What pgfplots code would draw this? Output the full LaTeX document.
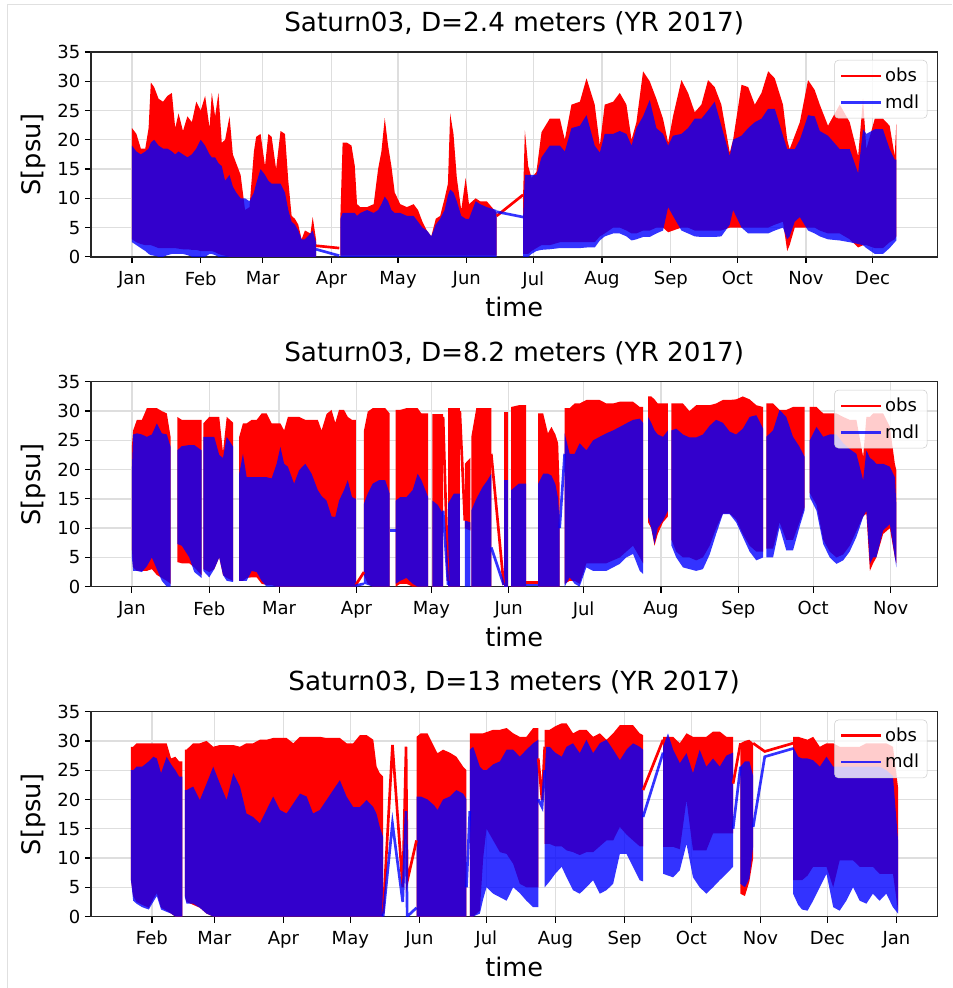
\documentclass[border=0pt]{standalone}
\usepackage{fontspec}
\setmainfont{DejaVu Sans}
\usepackage{pgfplots}
\usepackage{pgfplotstable}
\pgfplotsset{compat=1.18}
\usepgfplotslibrary{fillbetween}

\definecolor{obsc}{rgb}{1,0,0}
\definecolor{mdlc}{rgb}{0,0,1}
\definecolor{gridc}{rgb}{0.87,0.87,0.87}
\newcommand\tickfont{\fontsize{13.5pt}{16pt}\selectfont}
\newcommand\labfont{\fontsize{19.2pt}{23pt}\selectfont}
\newcommand\titfont{\fontsize{19.7pt}{23pt}\selectfont}
\tikzset{obsline/.style={obsc, line width=2pt},
         mdlline/.style={mdlc, draw opacity=0.8, line width=2pt}}

% envelopes: day of year, obs high/low, mdl high/low
% panel 1 (D=2.4 m)
\pgfplotstableread{
d oh ol mh ml
0 22 3 19 2.5
2 21 2.5 18 2
4 18.5 2.2 17.5 1.5
6 18.5 2 18 1
7.5 22 2 18.5 0.5
8.5 29.8 2 19.5 0.3
10 29 1.8 20 0.2
12 27 1.5 19 0
14 26.5 1.5 18.5 0
16 27.5 1.5 18.5 0.3
18 28 1.5 18 0.5
19.5 22 1.5 17.5 0.5
21 24.5 1.4 18 0.5
23 21.5 1.3 17.5 0.5
25 24 1.3 17 0.3
27 23 1.2 17.5 0
29 26.5 1.2 18.5 0
31 25 1 20 0
33 27.5 1 19 0
35 22 1 17.5 0.5
36 28 1 17 0.5
37.5 24 0.8 17 0.3
39 28 0.5 16 0
40.5 19.5 0.3 15.5 0
42 20 0.2 13 0
44 24 0 14 0
45.5 17.5 0 12 0
47 16 0 11 0
49 14 0 10 0
51 8 0 10 0
53 8.5 0 9.5 0
55 18 0 11 0
56 20.5 0 12.5 0
58 21 0 15 0
60 15.5 0 14 0
61.5 21 0 13 0
63 20.5 0 12.5 0
65 15 0 12.5 0
67 21.5 0 12.5 0
69 21 0 11 0
70.5 13 0 8 0
72 7 0 6 0
73.5 6.5 0 5.5 0
75 5.5 0 4.5 0
76.5 3 0 3 0
78 4.5 0 3 0
80.5 4 0 4 0
81.5 6.8 0 4.5 0
83 3 0 2.5 0
}\tAa
\pgfplotstableread{
d oh ol mh ml
94 7 0.2 6.5 0
95 19.5 0.2 7.5 0
97 19.5 0.2 7.5 0
99 19 0.2 7.5 0
100.5 15.5 0.2 7.5 0
101.5 9 0.2 7 0
103 8.5 0.2 7.5 0
106 8.5 0.2 8 0
109 9 0.2 7.5 0
111 15 0.2 8 0
112.5 18 0.2 9 0
114 23.7 0.2 10.3 0
115.5 19 0.2 9.5 0
117 15.5 0.2 8 0
118.5 11 0.2 7.5 0
121 9 0.2 7.5 0
124 8.5 0.2 7 0
127 9 0.2 7 0
129 8 0.2 6 0
131 6 0.2 5 0
133 4.5 0.2 4.5 0
135 3.5 0.2 3.5 0
137 6.5 0.2 5.5 0
139 7 0.2 6.5 0
141 10 0.2 8 0
142.5 12.5 0.2 10.5 0
143.5 24.5 0.2 11.5 0
145 21 0.2 11 0
146.5 13.5 0.2 9.5 0
148.5 8 0.2 7 0
150.5 13.5 0.2 6.5 0
152 9 0.2 6.5 0
155 10 0.2 9.5 0
157 9.5 0.2 9 0
160 9.5 0.2 8.5 0
164.5 7.5 0.2 8 0
}\tAb
\pgfplotstableread{
d oh ol mh ml
176.4 10.6 0.5 6.8 0
177.2 21.6 0.5 14 0
178.7 15.5 0.5 14 0
180.2 13.5 1 14 0.5
182.4 14.5 1.5 14 1
184.7 21.3 2 17 1.2
188.4 23.6 2 19 1.3
193 23.6 2.5 19 1.5
195.2 20 2.5 18 1.5
198.2 26 2.5 22 1.5
202 26.5 2.5 22.4 1.5
205 30.5 2.5 24.2 1.6
208.7 26 2.5 19 1.6
211 19 3.5 17.8 2.8
213.2 26 4 21 3.5
217 26.5 5 21 4
220 28 5 21.5 4
223 26 4.5 21 3.5
225.3 20 4 19 2.8
227.5 23 4 22 3
230.5 31.7 4.5 24 3.4
233.5 30 4.5 26.8 3.4
236.5 27 5 22 4
239.5 23.6 5 21 4.5
241.8 19.5 4.2 19 8.5
244 24 4.5 20.7 7
247.8 30.2 5 21 4.5
250.8 28 5 22 4
253.8 24.7 4.5 23.6 3.5
256.8 26 4.5 23.6 3.4
259.8 30.2 4.5 25 3.4
262.8 29 4.5 26.5 3.4
265.8 26 4.5 22.4 3.5
269.6 17.8 5 17.2 5.5
271.1 20 5 20 8
274.9 29.4 5 20.7 5
277.9 29 5 22 4
280.9 26 5 23 4
283.9 28 5 23.6 4
286.9 31.7 5 25.3 4
289.9 30.5 5.5 25.3 4.5
293.6 26 6 20.7 5
295.5 20 1 18.4 3
296.6 18.4 2 18.4 3.5
298.9 20.7 5 18.4 6
301.2 23 5 20 6.8
304.9 30.2 5 24.2 4.5
307.9 28.5 5 24 4
310.2 26 4.5 21.5 3.5
313.9 22.4 4 20.7 3
319.2 26 4 18.4 2.8
323.7 23 3 18.4 2.5
327.5 17.2 1.6 14.3 2.2
329.7 27 2 21.8 2
331.2 18.4 2 21 1.5
335 23.6 1.5 21.8 0.5
338.7 23.6 1.5 21.8 0.5
341.7 22.4 2.5 18.4 1.5
344 17.2 3 16.6 2.5
344.7 22.7 3.5 16.6 2.8
}\tAc
% panel 2 (D=8.2 m)
\pgfplotstableread{
d oh ol mh ml
0 24 6.5 20 5
0.5 26.7 3.3 26 2.7
2 28.5 2.7 26.2 2.7
4 28.5 2.7 26 2.5
6 30.5 2.7 25.6 3.5
8 30.5 3 26 5
10 30.5 2 27.9 3
12 30 1.5 26.2 1
14 29.6 1 26 0
15.5 25.6 0.5 23.9 0
}\tBa
\pgfplotstableread{
d oh ol mh ml
18.2 29 4.2 23.3 7.3
20 28.5 4 24 7
23 28.5 4 24.2 5
25 28.5 3.3 24.2 2.5
27.9 28.5 2 23.3 1.5
}\tBb
\pgfplotstableread{
d oh ol mh ml
28.6 27.9 3 25.6 2.7
31 29 2.5 25.6 1.6
33 29 3 25.6 3
35 29 5 22.5 5
36.5 23 2 22 2
38 29 1.5 25.6 1
40.6 28 1 23.9 0.8
}\tBc
\pgfplotstableread{
d oh ol mh ml
43 25.6 1 19.3 1
44.5 27.9 1 22.7 1
46 27.9 1.5 18.7 1
48 28.5 1.6 18.7 2.7
50 28.5 1.6 18.7 2.5
52 29.6 0.5 18.7 1
54 29.6 0.3 18.7 0
56 27.9 0.3 18.5 0
58 27.9 0 21 0
59.5 27.9 0 23.9 0
61 26.7 0 21 0
62.5 29 0 20.5 0
65 29 0 17.6 0
67 29 0 19.9 0
69.5 28.5 0 21 0
72 28.5 0 19.3 0
74.5 28.5 0 16.5 0
76 26.7 0 15.5 0
78 29.5 0 14.7 0
80 30.2 0 12 0
81.5 28 0 11.9 0
83 30.2 0 14.7 0
85 30.2 0 16.5 0
86.5 29 0 18.2 0
88.2 28.5 0 15.3 0
89.7 28.5 0 15 0
}\tBd
\pgfplotstableread{
d oh ol mh ml
93 26.7 2 14.2 0.5
94.5 29.9 0.5 15.9 0.3
96.5 30.5 0 17.6 0
99 30.5 0 18.2 0
101.5 30.5 0 18.2 0
103.3 29.6 0 15.9 0
}\tBe
\pgfplotstableread{
d oh ol mh ml
105.7 30.2 0 14.7 0.5
107.5 30.2 0.5 15.3 1
110 30.5 0.5 15.3 1.5
112.5 30.5 0 16.5 0.5
114.5 30.5 0 19.3 0
116 29.6 0 18.2 0
118.7 29.6 0 15.3 0
}\tBf
\pgfplotstableread{
d oh ol mh ml
120.4 29.5 0 14.7 0
122.5 29.5 0 14 0
124.7 29.5 0 12.4 0
}\tBg
\pgfplotstableread{
d oh ol mh ml
126.7 30.5 0 14.2 0
129 30.5 0 15.9 0
131.4 30.5 0 15.9 0
}\tBh
\pgfplotstableread{
d oh ol mh ml
133.4 21 10 11.3 0
135.6 22 9.6 11 0
}\tBi
\pgfplotstableread{
d oh ol mh ml
136 25.6 0 13 0
138 30.5 0 15 0
140.5 30.5 0 17 0
142.5 30.5 0 18.2 0
144 30.5 0 19.3 0
}\tBj
\pgfplotstableread{
d oh ol mh ml
149 29.9 0 18.2 0
150.7 29.9 0 18.2 0
}\tBk
\pgfplotstableread{
d oh ol mh ml
152 30.7 0 16.5 0
155 31 0 17.6 0
158 31 0 17.6 0
}\tBl
\pgfplotstableread{
d oh ol mh ml
162.8 29.6 0 17.6 0
164.8 29.6 0 19.3 0
166.7 26.2 0 19.3 0
168.1 27.3 0 19 0
169.7 26 0 17.5 0
170.8 24.5 0 15 0
171.4 17 0 10.2 0
}\tBm
\pgfplotstableread{
d oh ol mh ml
173.4 30.5 0.5 26.2 0
175.4 30.5 1 22.7 1.6
177.4 31.3 1 22.7 0.5
179.4 31.3 0.5 24.5 0
182.1 31.9 4 23.3 3.3
184.8 31.9 4 25 2.7
187.4 31.9 4 25.6 2.7
190.1 31.3 4 26.2 2.7
192.8 31.3 4.5 26.7 3.3
195.5 31.6 5 27.3 3.9
198.1 31.6 6 27.9 5
200.8 31.6 7 28.5 5.6
203.5 30.7 5 28.7 2.7
204.8 30.7 4 28 2.2
}\tBn
\pgfplotstableread{
d oh ol mh ml
206.8 32.5 11 29 12
208.1 32.5 10 28 10
209.4 32 7 26.7 7.3
210.7 31.3 9 26 10
212.8 31.3 11 25.6 11.3
214.8 31.3 12 26.7 13
}\tBo
\pgfplotstableread{
d oh ol mh ml
216.2 31.3 8 26.7 7
218.1 31.3 6 27 5
220.8 31.3 5 26 3.3
223.4 30 5 25.5 3
226.1 31 4.5 25.5 2.7
228.8 31 5 26 3
231.5 31 7 27.5 5.5
234.1 31.3 10 28.5 9
236.8 31.9 12.5 28 12.4
239.5 31.9 12.5 26.5 12.4
242.1 32 11.5 26 11
244.8 32.5 9 27 8.5
247.5 32 7 29 6
250.2 31 6 29.3 4.5
252.9 30.7 6 27 5
}\tBp
\pgfplotstableread{
d oh ol mh ml
254.2 31.3 6.5 25.6 5
256.9 31.3 6.5 26.7 5
259.5 30.2 11 30.2 10.2
262.2 30.2 8 29 6.2
264.9 30.7 8 25.6 6.2
267.5 30.7 11 23.9 10.2
269.5 30.7 13.5 22.2 13
}\tBq
\pgfplotstableread{
d oh ol mh ml
271.6 30.7 16 25 15.3
274.3 30.7 14 27.3 13
277 29.6 8 25.6 7.3
279.6 29.6 6 26 5
282.3 29.6 5 26 3.9
285 29 5.5 24.5 4.5
287.6 28.5 7 23.5 6
290.3 28.5 9.5 22.7 8.5
293 22.2 12 18.2 11.9
294.3 29 12.5 23.3 13
295.7 29 2.7 22 3.9
297 29.6 4 21.6 5
298.3 29.6 5 21 5
301 29.6 9 21 9.6
303.7 27.3 10 20.5 10.7
305.7 21 5 18.7 5
306.3 19.9 4 14.2 3.3
}\tBr
% panel 3 (D=13 m)
\pgfplotstableread{
d oh ol mh ml
21.6 29 6.2 25 6.2
22.6 29 3.5 25 2.7
24.1 29.6 2.5 25.6 2.2
26.6 29.6 2 25.6 1.6
29.6 29.6 1.5 26.5 1.2
31.6 29.6 3 27.3 2.5
33.2 29.6 4 27 3.5
35.1 29.6 1.5 24.5 1.2
37.6 29.6 1 27.3 0.8
39.6 27 0.5 26 0.5
41.5 27.3 0 25 0
43.2 26.5 0 23.9 0
44.7 26.5 0 23.9 0
}\tCa
\pgfplotstableread{
d oh ol mh ml
45.8 28.5 3.5 21.6 3.3
46.5 28.5 2.5 21.6 2.2
49.5 29.6 2 22.2 2.2
52.5 29.6 1.5 19.9 1.5
55.5 30 0.5 22.7 0.5
58.5 29 0 25.6 0
61.5 29.3 0 22.7 0
64.5 29.3 0 19.9 0
67.5 29.3 0 24.5 0
70.5 29 0 22.2 0
73.4 29.6 0 17.6 0
76.4 29.6 0 17 0
79.4 30.2 0 15.9 0
82.4 30.2 0 18.2 0
85.4 30.5 0 20.5 0
88.4 30.5 0 18.2 0
91.4 30.5 0 17.6 0
94.4 29.6 0 19.3 0
97.4 30.7 0 21 0
100.4 30.7 0 20.5 0
103.3 30.7 0 17.6 0
106.3 30.7 0 18.2 0
109.3 30.5 0 19.9 0
112.3 30.5 0 21.6 0
115.3 30.5 0 23.3 0
118.3 29.6 0 20.5 0
121.3 29.6 0 18.7 0
124.3 31 0 18.7 0
127.3 31 0 19.9 0
130.3 30.2 0 18.7 0
131.8 25.6 0 17.5 0
133.2 24.5 0 15.3 0
134.7 23.9 0 13.6 0
}\tCb
\pgfplotstableread{
d oh ol mh ml
149.7 30.7 0 20.5 0
151.6 31.3 0 20.5 0
154.6 31.3 0 20 0
157.6 29 0 19 0
159.1 27.9 0 18.2 0
161.6 28.5 0 20 0
164.6 28 0 20.5 0
167.6 27.3 0 21.6 0
170.6 25.6 0 21 0
172.1 25 0 20 0
}\tCc
\pgfplotstableread{
d oh ol mh ml
173.6 31.3 0 28.5 0
175.1 31.3 0 29 0
178.1 31.3 1 25.6 0.5
179.6 31.3 10 25 3
181.1 31.5 15 25 5
184.1 31.9 13 26 3.9
187.1 31.9 11 26.5 3.3
190.1 32.2 10.7 28.5 2.7
193.05 31.3 9 28.5 5
196 30.7 5.6 27.3 4
199 30.7 5 28.5 2.7
202 32.2 5 29.6 1.6
204.3 32.2 5 30.2 1.6
}\tCd
\pgfplotstableread{
d oh ol mh ml
207.2 31.9 12.4 29 5
209.4 31.9 12.4 29 6
211.9 32.5 12 28 7.3
214.8 33 12 27.3 8.5
217 33 11.3 29 6.7
219.9 31.3 11 29.6 4.5
222.9 31.9 10.5 27.9 3.9
225.9 31.9 11 30.2 5
228.9 30.7 11 27.9 6.2
231.9 31.3 12 29.6 3.9
234.9 30.2 13 30.2 4.5
237.9 31.3 13 28.5 5.6
240.9 32.7 15.3 26.7 10.7
243.9 32.7 14 28.5 10.7
246.8 32.7 13 29.6 8.5
249.8 31.3 12 29 6.2
251.3 31 12 28.5 6
}\tCe
\pgfplotstableread{
d oh ol mh ml
260.3 30.7 11.9 29 7.3
262.5 30.7 11.9 31.3 7
264.8 30.7 11.9 28.5 6.7
267.8 29.6 11.5 26.2 7.9
270.8 31.3 19.9 27.9 12.4
273.7 30.7 11.3 24.5 6.7
276.7 30.7 11.3 28.5 5
279.7 30.7 11.3 25.6 3.9
282.7 31.6 14.2 27 5
285.7 31.6 14.2 25.6 6.2
288.7 30.7 14.2 27.5 7.3
291.7 30.7 14.2 28 8.5
}\tCf
\pgfplotstableread{
d oh ol mh ml
295 29.6 3.9 25.6 5.6
297 30 3.5 26.5 5
299 30.2 6 26.5 6.5
300.7 29.6 10 24 12
}\tCg
\pgfplotstableread{
d oh ol mh ml
318.6 30.7 6.2 29 3.9
320.9 30.7 6.2 27.3 2
322.6 30.5 6.2 27 1.2
325.1 30.2 7 27 1
327.6 30.7 8.5 26.7 2.7
330.6 29 8.5 25.6 5
333.6 29.6 8.5 27.3 7.3
336.6 29.6 5 25.6 1.6
339.5 29 9.6 25.6 1
342.5 29 9.6 25.6 2.7
345.5 29 9.6 25.6 5
348.5 29 8.5 25.6 2.7
351.5 29.6 8.5 25.6 2.2
354.4 29.6 8.5 25.6 3.9
357.4 29.6 7.3 25.6 2.7
360.4 29.6 7.3 25 3.9
363.4 29 7.3 24 1.6
365.7 22 1 13 0.5
}\tCh

\newcommand{\obsseg}[2]{%
  \addplot[draw=none, forget plot, name path=#1oh] table[x=d, y=oh] {#2};
  \addplot[draw=none, forget plot, name path=#1ol] table[x=d, y=ol] {#2};
  \addplot[obsc, forget plot] fill between[of=#1oh and #1ol];
}
\newcommand{\mdlseg}[2]{%
  \addplot[draw=none, forget plot, name path=#1mh] table[x=d, y=mh] {#2};
  \addplot[draw=none, forget plot, name path=#1ml] table[x=d, y=ml] {#2};
  \addplot[mdlc, fill opacity=0.8, forget plot] fill between[of=#1mh and #1ml];
}

\pgfplotsset{
  panel/.style={
    scale only axis, width=635.25pt, height=153.75pt,
    anchor=north west,
    ymin=0, ymax=35, ytick={0,5,...,35},
    grid=major, major grid style={gridc, line width=1pt},
    tick align=outside, tick pos=left, major tick length=4.5pt,
    every tick/.style={black, line width=0.9pt},
    axis line style={black!85, line width=1pt},
    tick label style={font=\tickfont},
    xticklabel style={yshift=-3pt},
    /pgf/number format/assume math mode=true,
    title style={font=\titfont, at={(axis description cs:0.5,1.062)}, anchor=base, yshift=0pt},
    xlabel={time}, ylabel={S[psu]},
    label style={font=\labfont},
    xlabel style={at={(axis description cs:0.5,-0.293)}, anchor=base},
    ylabel style={at={(axis description cs:-0.0685,0.5)}, anchor=center},
    legend style={at={(axis description cs:0.988,0.961)}, anchor=north east,
      draw=black!20, rounded corners=3pt, fill=white, fill opacity=0.8,
      text opacity=1, draw opacity=1, font=\tickfont,
      inner xsep=4pt, inner ysep=4pt, row sep=4pt},
    legend cell align=left,
    legend image code/.code={\draw[##1] (0pt,0pt) -- (30pt,0pt);},
  }
}

\begin{document}
\begin{tikzpicture}
\path (0,0) rectangle (714pt,741pt);
\draw[black!12, line width=0.75pt] (6pt,0pt) -- (6pt,737.5pt) -- (714pt,737.5pt);

% ---- panel 1
\begin{axis}[panel, at={(68.25pt,702pt)},
  title={Saturn03, D=2.4 meters (YR 2017)},
  xmin=-18.5, xmax=363.3,
  xtick={0,31,59,90,120,151,181,212,243,273,304,334},
  xticklabels={Jan,Feb,Mar,Apr,May,Jun,Jul,Aug,Sep,Oct,Nov,Dec}]
\addlegendimage{obsline}\addlegendentry{obs}
\addlegendimage{mdlline}\addlegendentry{mdl}
\obsseg{Aa}{\tAa}
\obsseg{Ab}{\tAb}
\obsseg{Ac}{\tAc}
\addplot[obsline, forget plot] coordinates {(83,1.9) (93.5,1.5)};
\addplot[obsline, forget plot] coordinates {(164.5,7) (176.4,10.6)};
\mdlseg{Aa}{\tAa}
\mdlseg{Ab}{\tAb}
\mdlseg{Ac}{\tAc}
\addplot[mdlline, forget plot] coordinates {(83,1.3) (93.5,0.2)};
\addplot[mdlline, forget plot] coordinates {(164.5,7.7) (176.4,6.8)};
\end{axis}

% ---- panel 2
\begin{axis}[panel, at={(68.25pt,454.5pt)},
  title={Saturn03, D=8.2 meters (YR 2017)},
  xmin=-16.4, xmax=322.8,
  xtick={0,31,59,90,120,151,181,212,243,273,304},
  xticklabels={Jan,Feb,Mar,Apr,May,Jun,Jul,Aug,Sep,Oct,Nov}]
\addlegendimage{obsline}\addlegendentry{obs}
\addlegendimage{mdlline}\addlegendentry{mdl}
\obsseg{Ba}{\tBa}
\obsseg{Bb}{\tBb}
\obsseg{Bc}{\tBc}
\obsseg{Bd}{\tBd}
\obsseg{Be}{\tBe}
\obsseg{Bf}{\tBf}
\obsseg{Bg}{\tBg}
\obsseg{Bh}{\tBh}
\obsseg{Bi}{\tBi}
\obsseg{Bj}{\tBj}
\obsseg{Bk}{\tBk}
\obsseg{Bl}{\tBl}
\obsseg{Bm}{\tBm}
\obsseg{Bn}{\tBn}
\obsseg{Bo}{\tBo}
\obsseg{Bp}{\tBp}
\obsseg{Bq}{\tBq}
\obsseg{Br}{\tBr}
\addplot[obsline, forget plot] coordinates {(89.7,0.3) (93,2.5)};
\addplot[obsline, forget plot] coordinates {(124.7,29) (126.7,1)};
\addplot[obsline, forget plot] coordinates {(131.4,30) (133.4,11.3)};
\addplot[obsline, forget plot] coordinates {(144,22.7) (149,0.3)};
\addplot[obsline, forget plot] coordinates {(158,0.7) (162.8,0.7)};
\mdlseg{Ba}{\tBa}
\mdlseg{Bb}{\tBb}
\mdlseg{Bc}{\tBc}
\mdlseg{Bd}{\tBd}
\mdlseg{Be}{\tBe}
\mdlseg{Bf}{\tBf}
\mdlseg{Bg}{\tBg}
\mdlseg{Bh}{\tBh}
\mdlseg{Bi}{\tBi}
\mdlseg{Bj}{\tBj}
\mdlseg{Bk}{\tBk}
\mdlseg{Bl}{\tBl}
\mdlseg{Bm}{\tBm}
\mdlseg{Bn}{\tBn}
\mdlseg{Bo}{\tBo}
\mdlseg{Bp}{\tBp}
\mdlseg{Bq}{\tBq}
\mdlseg{Br}{\tBr}
\addplot[mdlline, forget plot] coordinates {(89.7,0.2) (93,0.5)};
\addplot[mdlline, forget plot] coordinates {(103.3,9.6) (105.7,9.6)};
\addplot[mdlline, forget plot] coordinates {(124.7,13) (126.7,0.3)};
\addplot[mdlline, forget plot] coordinates {(144,6.7) (149,0.3)};
\addplot[mdlline, forget plot] coordinates {(158,0.3) (162.8,0.3)};
\addplot[mdlline, forget plot] coordinates {(171.4,10) (173.4,22.7)};
\end{axis}

% ---- panel 3
\begin{axis}[panel, at={(68.25pt,207pt)},
  title={Saturn03, D=13 meters (YR 2017)},
  xmin=3.65, xmax=383.4,
  xtick={31,59,90,120,151,181,212,243,273,304,334,365},
  xticklabels={Feb,Mar,Apr,May,Jun,Jul,Aug,Sep,Oct,Nov,Dec,Jan}]
\addlegendimage{obsline}\addlegendentry{obs}
\addlegendimage{mdlline}\addlegendentry{mdl}
\obsseg{Ca}{\tCa}
\obsseg{Cb}{\tCb}
\obsseg{Cc}{\tCc}
\obsseg{Cd}{\tCd}
\obsseg{Ce}{\tCe}
\obsseg{Cf}{\tCf}
\obsseg{Cg}{\tCg}
\obsseg{Ch}{\tCh}
\addplot[obsline, forget plot] coordinates {(134.7,0.5) (138.9,29.3) (143.5,5) (145,29) (145.5,6) (149.7,13)};
\addplot[obsline, forget plot] coordinates {(204.3,27) (206,19.9) (207.2,29)};
\addplot[obsline, forget plot] coordinates {(251.3,21.6) (260.3,30.2)};
\addplot[obsline, forget plot] coordinates {(291.7,22.7) (295,29.6)};
\addplot[obsline, forget plot] coordinates {(300.7,29.6) (302.9,29) (305.9,28.2) (318.6,29.6)};
\mdlseg{Ca}{\tCa}
\mdlseg{Cb}{\tCb}
\mdlseg{Cc}{\tCc}
\mdlseg{Cd}{\tCd}
\mdlseg{Ce}{\tCe}
\mdlseg{Cf}{\tCf}
\mdlseg{Cg}{\tCg}
\mdlseg{Ch}{\tCh}
\addplot[mdlline, forget plot] coordinates {(134.7,0) (138.9,15.9) (143.5,2.5) (145,18) (145.5,0) (149.7,1.5)};
\addplot[mdlline, forget plot] coordinates {(172.1,5) (173.6,18)};
\addplot[mdlline, forget plot] coordinates {(204.3,20) (206,18.7) (207.2,25)};
\addplot[mdlline, forget plot] coordinates {(251.3,17) (260.3,28)};
\addplot[mdlline, forget plot] coordinates {(291.7,15) (295,25.6)};
\addplot[mdlline, forget plot] coordinates {(300.7,15.3) (305.9,27.3) (318.6,28.7)};
\end{axis}
\end{tikzpicture}
\end{document}
